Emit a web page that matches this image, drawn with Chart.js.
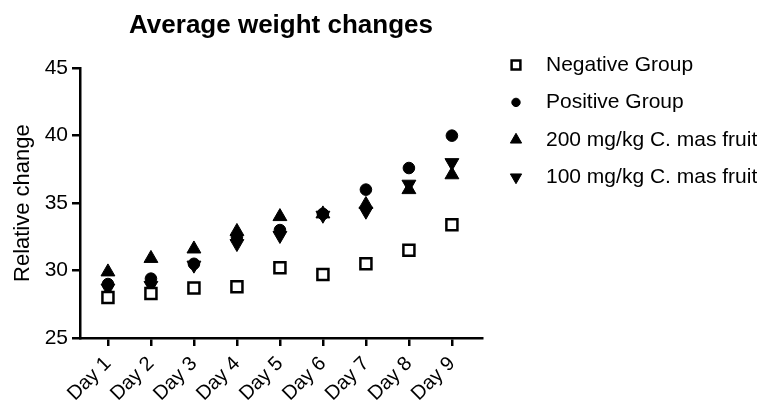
<!DOCTYPE html>
<html>
<head>
<meta charset="utf-8">
<script src="https://cdn.jsdelivr.net/npm/chart.js@4.4.1/dist/chart.umd.min.js"></script>
<style>
    html, body { margin: 0; padding: 0; background: #fff; }
    #wrap { width: 757px; height: 406px; }
</style>
</head>
<body>
<div id="wrap"><canvas id="chart"></canvas></div>
<script>
// values
var dayLabels = ['Day 1', 'Day 2', 'Day 3', 'Day 4', 'Day 5', 'Day 6', 'Day 7', 'Day 8', 'Day 9'];
var yTicks = [25, 30, 35, 40, 45];
var negativeGroup = [28.0, 28.3, 28.7, 28.8, 30.2, 29.7, 30.5, 31.5, 33.4];
var positiveGroup = [29.0, 29.4, 30.5, 32.5, 33.0, 34.2, 36.0, 37.6, 40.0];
var mas200 = [29.9, 30.9, 31.6, 32.9, 34.0, 34.2, 34.9, 36.0, 37.1];
var mas100 = [28.7, 28.9, 30.4, 32.0, 32.6, 34.1, 34.4, 36.4, 38.0];
var seriesNames = ['Negative Group', 'Positive Group', '200 mg/kg C. mas fruit', '100 mg/kg C. mas fruit'];

var FONT = "'Liberation Sans', Arial, sans-serif";

function toPoints(values) {
    return values.map(function(v, i) { return { x: i + 1, y: v }; });
}

// draws the legend to the right of the plot, using the datasets' own point styles
var sideLegend = {
    id: 'sideLegend',
    afterDraw: function(chart, args, opts) {
        var ctx = chart.ctx;
        chart.data.datasets.forEach(function(ds, i) {
            var y = opts.top + i * opts.rowGap;
            ctx.save();
            ctx.fillStyle = ds.backgroundColor;
            ctx.strokeStyle = ds.borderColor;
            ctx.lineWidth = ds.borderWidth;
            Chart.helpers.drawPoint(ctx, {
                pointStyle: ds.pointStyle,
                rotation: ds.pointRotation || 0,
                radius: opts.radii[i],
                borderWidth: ds.borderWidth
            }, opts.markerX, y);
            ctx.fillStyle = '#000';
            ctx.font = opts.fontSize + 'px ' + FONT;
            ctx.textBaseline = 'middle';
            ctx.textAlign = 'left';
            ctx.fillText(ds.label, opts.textX, y);
            ctx.restore();
        });
    }
};

var ctx = document.getElementById('chart').getContext('2d');
var chart = new Chart(ctx, {
    type: 'scatter',
    data: {
        datasets: [{
            label: seriesNames[0],
            data: toPoints(negativeGroup),
            pointStyle: 'rect',
            pointRadius: 7.8,
            backgroundColor: '#fff',
            borderColor: '#000',
            borderWidth: 2.5
        }, {
            label: seriesNames[1],
            data: toPoints(positiveGroup),
            pointStyle: 'circle',
            pointRadius: 5.8,
            backgroundColor: '#000',
            borderColor: '#000',
            borderWidth: 1
        }, {
            label: seriesNames[2],
            data: toPoints(mas200),
            pointStyle: 'triangle',
            pointRadius: 8,
            backgroundColor: '#000',
            borderColor: '#000',
            borderWidth: 1
        }, {
            label: seriesNames[3],
            data: toPoints(mas100),
            pointStyle: 'triangle',
            pointRotation: 180,
            pointRadius: 8,
            backgroundColor: '#000',
            borderColor: '#000',
            borderWidth: 1
        }]
    },
    options: {
        responsive: true,
        maintainAspectRatio: false,
        animation: false,
        devicePixelRatio: 1,
        events: [],
        layout: {
            padding: { left: 0, right: 275, top: 0, bottom: 0 }
        },
        scales: {
            x: {
                type: 'linear',
                min: 0.35,
                max: 9.7,
                afterBuildTicks: function(scale) {
                    scale.ticks = dayLabels.map(function(d, i) { return { value: i + 1 }; });
                },
                afterFit: function(scale) { scale.height = 68; },
                ticks: {
                    autoSkip: false,
                    minRotation: 45,
                    maxRotation: 45,
                    padding: 6,
                    color: '#000',
                    font: { family: FONT, size: 20 },
                    callback: function(value) { return dayLabels[value - 1]; }
                },
                grid: {
                    drawOnChartArea: false,
                    drawTicks: true,
                    tickLength: 8,
                    color: '#000',
                    lineWidth: 2.5
                },
                border: { color: '#000', width: 2.5 }
            },
            y: {
                min: yTicks[0],
                max: yTicks[yTicks.length - 1],
                afterBuildTicks: function(scale) {
                    scale.ticks = yTicks.map(function(v) { return { value: v }; });
                },
                afterFit: function(scale) { scale.width = 80; },
                ticks: {
                    padding: 4,
                    color: '#000',
                    font: { family: FONT, size: 21 }
                },
                grid: {
                    drawOnChartArea: false,
                    drawTicks: true,
                    tickLength: 8,
                    color: '#000',
                    lineWidth: 2.5
                },
                border: { color: '#000', width: 2.5 },
                title: {
                    display: true,
                    text: 'Relative change',
                    color: '#000',
                    font: { family: FONT, size: 22 },
                    padding: { top: 10, bottom: 0 }
                }
            }
        },
        plugins: {
            legend: { display: false },
            tooltip: { enabled: false },
            title: {
                display: true,
                text: 'Average weight changes',
                fullSize: false,
                color: '#000',
                font: { family: FONT, size: 26, weight: 'bold' },
                padding: { top: 10, bottom: 27 }
            },
            sideLegend: {
                markerX: 516,
                textX: 546,
                top: 65,
                rowGap: 37.4,
                fontSize: 21,
                radii: [6.2, 4.2, 6.5, 6.5]
            }
        }
    },
    plugins: [sideLegend]
});
</script>
</body>
</html>
